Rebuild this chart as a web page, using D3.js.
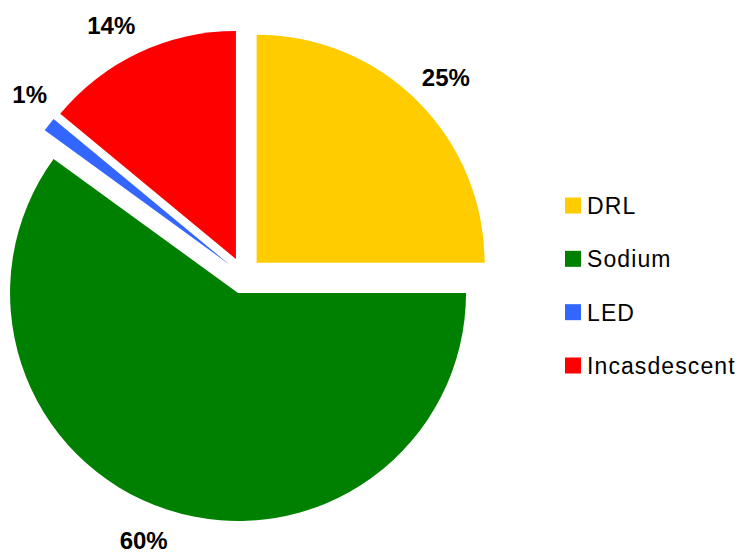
<!DOCTYPE html>
<html>
<head>
<meta charset="utf-8">
<script src="https://cdn.jsdelivr.net/npm/d3@7"></script>
<style>
  html, body { margin: 0; padding: 0; background: #fff; }
  svg { display: block; }
</style>
</head>
<body>
<svg id="chart" width="739" height="554"></svg>
<script>
// Lamp types and their share of the total
const categories = ["DRL", "Sodium", "LED", "Incasdescent"];
const shares = [25, 60, 1, 14];
const labels = ["25%", "60%", "1%", "14%"];
const colors = ["#FFCC00", "#008000", "#3366FF", "#FF0000"];

const svg = d3.select("#chart");
const cx = 243.7, cy = 275.6;
const radius = 228;
const explode = 18.3;
const labelRadius = 265;
// small angular tweak for label placement (radians)
const labelTweak = [0.01, 0.05, 0.045, -0.05];

const pie = d3.pie().sort(null).value(d => d)(shares);
const arc = d3.arc().innerRadius(0).outerRadius(radius);

const g = svg.append("g").attr("transform", `translate(${cx},${cy})`);

pie.forEach((p, i) => {
  const mid = (p.startAngle + p.endAngle) / 2;
  const dx = Math.sin(mid) * explode, dy = -Math.cos(mid) * explode;
  const sg = g.append("g").attr("transform", `translate(${dx},${dy})`);
  sg.append("path").attr("d", arc(p)).attr("fill", colors[i]);
  const la = mid + labelTweak[i];
  const lr = i === 2 ? labelRadius - 3 : labelRadius;
  sg.append("text")
    .attr("x", Math.sin(la) * lr)
    .attr("y", -Math.cos(la) * lr)
    .attr("text-anchor", "middle")
    .attr("dominant-baseline", "central")
    .attr("font-family", "Liberation Sans, Arial, sans-serif")
    .attr("font-weight", "bold")
    .attr("font-size", 24)
    .attr("fill", "#000")
    .text(labels[i]);
});

// Legend
const legendOrder = [0, 1, 2, 3];
const ly = d3.scalePoint().domain(legendOrder).range([205.5, 365.5]);
const legend = svg.append("g");
legendOrder.forEach(i => {
  const y = ly(i);
  legend.append("rect")
    .attr("x", 565).attr("y", y - 8)
    .attr("width", 16).attr("height", 16)
    .attr("fill", colors[i]);
  legend.append("text")
    .attr("x", 587).attr("y", y + 8.5)
    .attr("font-family", "Liberation Sans, Arial, sans-serif")
    .attr("font-size", 23)
    .attr("letter-spacing", 1.1)
    .attr("fill", "#000")
    .text(categories[i]);
});
</script>
</body>
</html>
